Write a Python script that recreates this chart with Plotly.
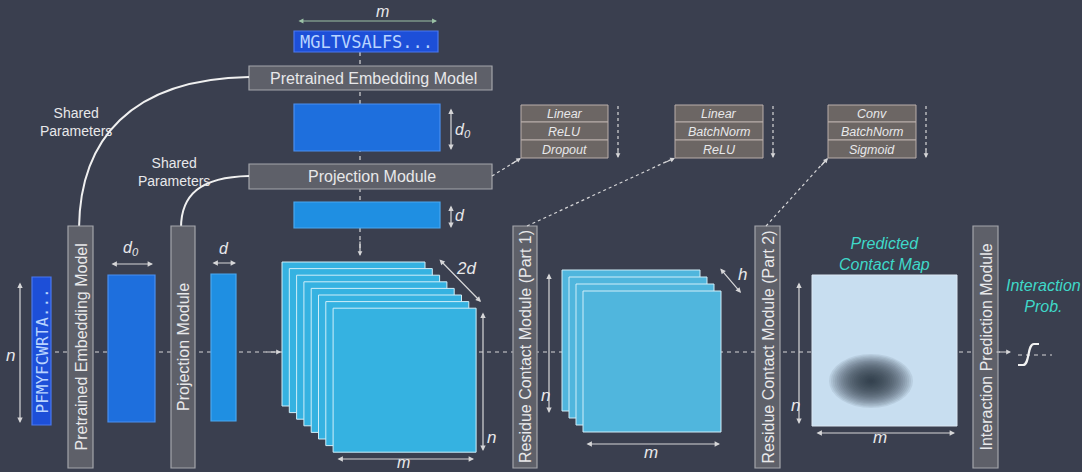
import plotly.graph_objects as go

# ---------------- data (labels / text content) ----------------
seq_top = "MGLTVSALFS..."
seq_left = "PFMYFCWRTA..."
module_names = ["Pretrained Embedding Model", "Projection Module",
                "Residue Contact Module (Part 1)", "Residue Contact Module (Part 2)",
                "Interaction Prediction Module"]
layer_blocks = [["Linear", "ReLU", "Dropout"],
                ["Linear", "BatchNorm", "ReLU"],
                ["Conv", "BatchNorm", "Sigmoid"]]
stack_layers = [8, 4]
shared_label = "Shared<br>Parameters"
map_label = "Predicted<br>Contact Map"
prob_label = "Interaction<br>Prob."

# ---------------- styles ----------------
BG = "#3a3f4f"
GRAY = "#5e6069"
GRAY_LINE = "#a3a5ab"
SMALL_FILL = "#6c6664"
SMALL_LINE = "#b9aeaa"
TXT = "#e8e8ea"
ARW = "#d6d6d8"
TEAL = "#3fd8c9"
FONT = "Liberation Sans, Arial, sans-serif"
MONO = "DejaVu Sans Mono, monospace"

fig = go.Figure()
shapes = []
ann = []


def rect(x0, y0, x1, y1, fill, line, lw=1.2):
    shapes.append(dict(type="rect", x0=x0, y0=y0, x1=x1, y1=y1, fillcolor=fill,
                       line=dict(color=line, width=lw), layer="above"))


def line(x0, y0, x1, y1, color=ARW, dash="dash", w=1.2):
    shapes.append(dict(type="line", x0=x0, y0=y0, x1=x1, y1=y1,
                       line=dict(color=color, width=w, dash=dash)))


def arrow(x0, y0, x1, y1, both=True, color=ARW, w=1.2, size=0.9):
    ann.append(dict(x=x1, y=y1, ax=x0, ay=y0, xref="x", yref="y", axref="x", ayref="y",
                    text="", showarrow=True, arrowhead=2, arrowsize=size, arrowwidth=w,
                    arrowcolor=color, arrowside="end+start" if both else "end"))


def text(x, y, s, size=14, color=TXT, angle=0, font=FONT):
    ann.append(dict(x=x, y=y, xref="x", yref="y", text=s, showarrow=False,
                    textangle=angle, font=dict(family=font, size=size, color=color)))


# main horizontal dashed flow line
line(55, 352, 1000, 352, dash="4px,4px")
# central vertical dashed flow line
line(360, 52, 360, 250, dash="4px,4px")
arrow(360, 240, 360, 256, both=False, size=0.8)
arrow(265, 352, 281, 352, both=False, size=0.8)
arrow(995, 352, 1011, 352, both=False, size=0.8)
line(1018, 355, 1052, 355, dash="4px,4px")

# top sequence
arrow(297, 21, 437, 21, color="#9cc2a6", w=1.1)
text(382, 11, "<i>m</i>", 16)
rect(294, 31, 438, 52, "#1d4fd8", "#4a78f0")
text(366, 42, seq_top, 17, "#b8d4ff", font=MONO)

# horizontal module boxes
rect(249, 66, 492, 90, GRAY, GRAY_LINE)
text(373, 78, module_names[0], 16)
rect(294, 104, 440, 151, "#1e6fdd", "#4a8ff0")
arrow(451, 107, 451, 150)
text(463, 130, "<i>d<sub>0</sub></i>", 16)
rect(249, 164, 492, 189, GRAY, GRAY_LINE)
text(372, 176, module_names[1], 16)
rect(294, 202, 440, 228, "#1f8fe2", "#4aa8f0")
arrow(451, 204, 451, 228)
text(460, 215, "<i>d</i>", 16)

# shared parameter curves
shapes.append(dict(type="path", path="M 249 77 C 130 79, 80 140, 79 228",
                   line=dict(color="#f0f0f0", width=2)))
shapes.append(dict(type="path", path="M 249 176 C 200 177, 181 195, 181 228",
                   line=dict(color="#f0f0f0", width=2)))
text(76, 122, shared_label, 14)
text(174, 172, shared_label, 14)

# vertical module boxes
vx = [(68, 93), (171, 195), (513, 537), (755, 780), (973, 998)]
for (a, b), name in zip(vx, module_names):
    rect(a, 226, b, 468, GRAY, GRAY_LINE)
    text((a + b) / 2, 347, name, 16, angle=-90)

# left sequence
rect(32, 277, 51, 425, "#1d4fd8", "#4a78f0")
text(41.5, 351, seq_left, 16, "#b8d4ff", angle=-90, font=MONO)
arrow(20, 281, 20, 423)
text(10, 355, "<i>n</i>", 17)

# embedding rects
rect(108, 275, 155, 422, "#1e6fdd", "#4a8ff0")
arrow(110, 264, 153, 264)
text(131, 248, "<i>d<sub>0</sub></i>", 16)
rect(211, 274, 236, 421, "#1f8fe2", "#4aa8f0")
arrow(211, 263, 236, 263)
text(224, 248, "<i>d</i>", 16)

# stack 1 (pair features)
n1 = stack_layers[0]
for i in range(n1):
    x0 = 282 + i * 7.3
    y0 = 262 + i * 6.6
    rect(x0, y0, x0 + 143, y0 + 144, "#35b2e1", "#cfeef9", 1)
arrow(438, 258, 481, 302)
text(466, 268, "<i>2d</i>", 17)
arrow(483, 311, 483, 451)
text(491, 437, "<i>n</i>", 17)
arrow(336, 459, 474, 459)
text(403, 462, "<i>m</i>", 16)

# stack 2 (hidden)
n2 = stack_layers[1]
for i in range(n2):
    x0 = 562 + i * 7
    y0 = 270 + i * 7
    rect(x0, y0, x0 + 138, y0 + 141, "#50b6dd", "#cfeef9", 1)
arrow(719, 267, 741, 293)
text(742, 274, "<i>h</i>", 17)
arrow(549, 272, 549, 413)
text(545, 395, "<i>n</i>", 17)
arrow(585, 444, 720, 444)
text(651, 452, "<i>m</i>", 17)

# contact map
rect(812, 275, 957, 426, "#c8def0", "#dbe8f4", 1)
for k in range(22):
    f = 1 - k / 22
    shapes.append(dict(type="circle", x0=871 - 42 * f, x1=871 + 42 * f,
                       y0=381 - 27 * f, y1=381 + 27 * f, fillcolor="#262b38",
                       opacity=0.085, line=dict(width=0)))
text(884, 254, "<i>" + map_label + "</i>", 16, TEAL)
arrow(799, 281, 799, 424)
text(795, 405, "<i>n</i>", 17)
arrow(815, 433, 955, 433)
text(880, 437, "<i>m</i>", 17)

# interaction prob
text(1043, 296, "<i>" + prob_label + "</i>", 16, TEAL)
shapes.append(dict(type="path", path="M 1018 365 L 1023 365 C 1030 365, 1027 344, 1034 344 L 1039 344",
                   line=dict(color="#f2f2f2", width=2.2)))

# small layer blocks
bx = [(521, 608), (675, 763), (828, 916)]
rows = [(105, 122), (122, 140), (140, 158)]
for (a, b), labels in zip(bx, layer_blocks):
    for (r0, r1), lab in zip(rows, labels):
        rect(a, r0, b, r1, SMALL_FILL, SMALL_LINE, 1)
        text((a + b) / 2, (r0 + r1) / 2 + 0.5, "<i>" + lab + "</i>", 12.5)
    line(b + 10, 106, b + 10, 150, dash="3px,3px")
    arrow(b + 10, 148, b + 10, 158, both=False, size=0.8)

# dotted connectors
line(492, 176, 518, 160, dash="dot")
arrow(510, 165, 521, 158, both=False, size=0.8)
line(527, 226, 670, 160, dash="dot")
arrow(664, 163, 675, 158, both=False, size=0.8)
line(766, 226, 825, 161, dash="dot")
arrow(820, 167, 828, 158, both=False, size=0.8)

fig.update_layout(
    width=1082, height=472, margin=dict(l=0, r=0, t=0, b=0),
    paper_bgcolor=BG, plot_bgcolor=BG, showlegend=False,
    xaxis=dict(range=[0, 1082], visible=False, fixedrange=True),
    yaxis=dict(range=[472, 0], visible=False, fixedrange=True),
    shapes=shapes, annotations=ann,
)
fig.write_html("out.html", config={"displayModeBar": False},
               post_script="document.body.style.margin='0';document.body.style.overflow='hidden';")
